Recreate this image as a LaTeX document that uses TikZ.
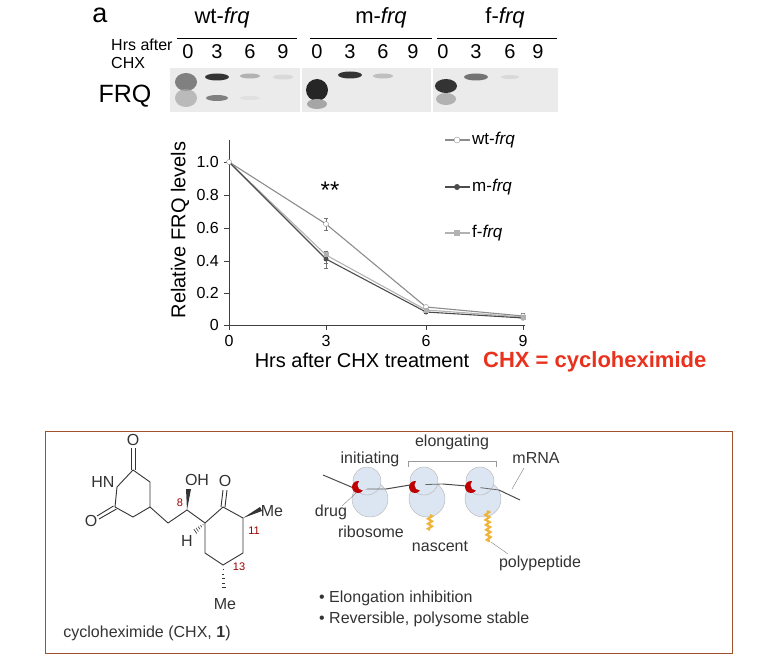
\documentclass[tikz,border=0pt]{standalone}
\usepackage{fontspec}
\setmainfont{Liberation Sans}
\usetikzlibrary{decorations.pathmorphing,calc}
\definecolor{chxred}{HTML}{E8321E}
\definecolor{boxbrown}{HTML}{A0522D}
\definecolor{ribo}{HTML}{DCE5F2}
\definecolor{pep}{HTML}{F0B43C}
\definecolor{txt}{HTML}{333333}
\tikzset{
 lab/.style={font=\fontsize{#1}{#1}\selectfont, inner sep=0pt},
 lab/.default=12,
 ax/.style={draw=black!75, line width=0.8pt},
 wtl/.style={draw=black!45, line width=1.1pt},
 ml/.style={draw=black!70, line width=1.1pt},
 fl/.style={draw=black!30, line width=1.1pt},
 bond/.style={line width=0.9pt, txt},
 pepl/.style={pep, line width=2.2pt, decorate, decoration={zigzag, amplitude=2pt, segment length=5pt}},
 leader/.style={draw=black!50, line width=0.4pt},
}
\begin{document}
\begin{tikzpicture}[x=1pt,y=-1pt]
\useasboundingbox (0,0) rectangle (760,668);
% ---------- blot header
\node[lab=27] (a) at (100,15) {a};
\node[lab=22] (wt) at (222,18) {wt-\textit{frq}};
\node[lab=22] (mf) at (381,18) {m-\textit{frq}};
\node[lab=22] (ff) at (505,18) {f-\textit{frq}};
\draw[line width=0.8pt] (177,38) -- (297,38);
\draw[line width=0.8pt] (310,38) -- (432,38);
\draw[line width=0.8pt] (437,38) -- (557,38);
\node[lab=16,anchor=west] (hrs) at (111,45) {Hrs after};
\node[lab=16,anchor=west] (chx) at (111,63) {CHX};
\foreach \x/\t in {188/0,217/3,250/6,283/9,317/0,350/3,383/6,413/9,443/0,476/3,510/6,538/9}
  \node[lab=20] at (\x,52) {\t};
\node[lab=25] (frq) at (125,96) {FRQ};
% blot panels
\fill[black!8] (170,68) rectangle (300,112);
\fill[black!8] (302,68) rectangle (431,112);
\fill[black!8] (433,68) rectangle (558,112);
\begin{scope}
\fill[black!60, opacity=0.8] (186,82) ellipse (11 and 9);
\fill[black!35, opacity=0.7] (186,98) ellipse (11 and 9);
\fill[black!80] (217,77) ellipse (12 and 3.5);
\fill[black!50] (217,98) ellipse (11 and 3);
\fill[black!30] (250,76) ellipse (10 and 2.5);
\fill[black!12] (250,98) ellipse (10 and 2);
\fill[black!15] (283,77) ellipse (10 and 2.5);
\fill[black!85] (317,90) ellipse (11 and 11);
\fill[black!35] (317,104) ellipse (10 and 5);
\fill[black!80] (350,75) ellipse (12 and 3.5);
\fill[black!25] (383,76) ellipse (10 and 2.5);
\fill[black!80] (446,86) ellipse (11 and 7);
\fill[black!30] (446,99) ellipse (10 and 6);
\fill[black!55] (476,77) ellipse (12 and 3.5);
\fill[black!15] (510,77) ellipse (9 and 2);
\end{scope}
% ---------- graph
\draw[ax] (229,140) -- (229,325) -- (525,325);
\foreach \v/\y in {1.0/162,0.8/195,0.6/228,0.4/261,0.2/293,0/325}{
  \draw[ax] (224,\y) -- (229,\y);
  \node[lab=16,anchor=east] at (219,\y) {\v};}
\foreach \v/\x in {0/229,3/326,6/426,9/523}{
  \draw[ax] (\x,325) -- (\x,330);
  \node[lab=16] at (\x,341) {\v};}
\node[lab=20,rotate=90] (ylab) at (180,230) {Relative FRQ levels};
\node[lab=20] (xlab) at (362,360) {Hrs after CHX treatment};
\node[lab=20,anchor=west,text=chxred,font=\bfseries\fontsize{22}{22}\selectfont] (def) at (483,362) {CHX = cycloheximide};
\node[lab=24] (stars) at (330,190) {**};
% error bars
\foreach \x/\y/\e in {326/224/6,326/257/6,326/262/6,426/308/3,523/315/2}
  \draw[black!55, line width=0.5pt] (\x,\y-\e) -- (\x,\y+\e) (\x-2,\y-\e) -- (\x+2,\y-\e) (\x-2,\y+\e) -- (\x+2,\y+\e);
\draw[wtl] (229,162) -- (326,224) -- (426,307) -- (523,316);
\draw[fl] (229,162) -- (326,255) -- (426,310) -- (523,317);
\draw[ml] (229,162) -- (326,259) -- (426,312) -- (523,318);
\foreach \x/\y in {229/162,326/224,426/307,523/316} \draw[black!45, fill=white] (\x,\y) circle (2.5);
\foreach \x/\y in {326/259,426/312,523/318} \fill[black!70] (\x,\y) circle (2.5);
\foreach \x/\y in {326/255,426/310,523/317} \fill[black!30] (\x-2.5,\y-2.5) rectangle (\x+2.5,\y+2.5);
% legend
\draw[wtl] (445,140) -- (470,140); \draw[black!45, fill=white] (457,140) circle (3);
\node[lab=17,anchor=west] at (472,140) {wt-\textit{frq}};
\draw[ml] (445,187) -- (470,187); \fill[black!70] (457,187) circle (3);
\node[lab=17,anchor=west] at (472,187) {m-\textit{frq}};
\draw[fl] (445,233) -- (470,233); \fill[black!30] (454,230) rectangle (460,236);
\node[lab=17,anchor=west] at (472,233) {f-\textit{frq}};
% ---------- bottom box
\draw[boxbrown, line width=0.9pt] (45,431) rectangle (732,653);
% chemical structure
\begin{scope}[txt]
\node[lab=16] (o1) at (133,440) {O};
\node[lab=16] (hn) at (103,482) {HN};
\node[lab=16] (o2) at (91,521) {O};
\node[lab=16] (oh) at (197,480) {OH};
\node[lab=16] (o3) at (225,481) {O};
\node[lab=16] (me1) at (272,511) {Me};
\node[lab=16] (h) at (187,541) {H};
\node[lab=16] (me2) at (225,604) {Me};
\node[lab=11,text=red!60!black] at (180,503) {8};
\node[lab=11,text=red!60!black] at (254,531) {11};
\node[lab=11,text=red!60!black] at (239,567) {13};
\end{scope}
\coordinate (a1) at (133,470); \coordinate (a2) at (150,482); \coordinate (a3) at (150,507);
\coordinate (a4) at (133,517); \coordinate (a5) at (115,507); \coordinate (a6) at (117,487);
\draw[bond] (a6) -- (a1) -- (a2) -- (a3) -- (a4) -- (a5) -- (a6);
\draw[bond] (131,470) -- (131,448) (135,470) -- (135,448);
\draw[bond] (113.5,506) -- (97,516) (116.5,509) -- (99,519);
\coordinate (c1) at (168,523); \coordinate (c8) at (187,510);
\coordinate (r1) at (205,523); \coordinate (r2) at (223,507); \coordinate (r3) at (243,518);
\coordinate (r4) at (243,553); \coordinate (r5) at (223,565); \coordinate (r6) at (205,553);
\draw[bond] (a3) -- (c1) -- (c8) -- (r1) -- (r2) -- (r3) -- (r4) -- (r5) -- (r6) -- (r1);
\fill[txt] (c8) -- (186,489) -- (191,489) -- cycle;
\draw[bond] (221,507) -- (223,490) (225,507) -- (227,490);
\fill[txt] (r3) -- (260,507) -- (262,511) -- cycle;
\foreach \t in {0.15,0.3,...,0.9}
  \draw[txt, line width=0.6pt] ($(r1)!\t!(192,534)+(-\t*2,-\t*3)$) -- ($(r1)!\t!(192,534)+(\t*2,\t*3)$);
\foreach \t in {0.15,0.3,...,0.9}
  \draw[txt, line width=0.6pt] ($(r5)!\t!(224,595)+(-\t*3,0)$) -- ($(r5)!\t!(224,595)+(\t*3,0)$);
\node[lab=16,txt] (name) at (147,633) {cycloheximide (CHX, \textbf{1})};
% ribosome scheme
\foreach \x in {370,427,483}{
  \fill[ribo] (\x,499) circle (18);
  \draw[black!30, line width=0.4pt] (\x,499) circle (18);
  \fill[ribo] (\x-3,481) circle (14);
  \draw[black!30, line width=0.4pt] (\x-3,481) circle (14);
}
\draw[black!70, line width=1pt] (323,475) -- (356,489) (386,489) -- (410,485) (443,484) -- (467,486) (499,490) -- (520,500);
\draw[black!60, line width=0.8pt] (356,489) -- (386,489) (410,485) -- (443,484) (467,486) -- (499,490);
\foreach \x in {370,427,483}{
  \fill[red!75!black] (\x-12,487) circle (6);
  \fill[ribo] (\x-7,485) circle (5.5);}
\draw[pepl] (430,515) -- (430,530);
\draw[pepl] (487,511) -- (489,542);
\begin{scope}[txt]
\node[lab=16] (init) at (370,459) {initiating};
\node[lab=16] (elong) at (452,442) {elongating};
\node[lab=16] (mrna) at (536,458) {mRNA};
\node[lab=16] (drug) at (331,512) {drug};
\node[lab=16] (ribl) at (371,532) {ribosome};
\node[lab=16] (nasc) at (440,546) {nascent};
\node[lab=16] (poly) at (540,563) {polypeptide};
\node[lab=16,anchor=west] (b1) at (319,598) {\textbullet\ Elongation inhibition};
\node[lab=16,anchor=west] (b2) at (319,619) {\textbullet\ Reversible, polysome stable};
\end{scope}
\draw[black!40, line width=0.6pt] (408,467) -- (408,461) -- (496,461) -- (496,467);
\draw[leader] (342,506) -- (356,493);
\draw[leader] (512,489) -- (524,468);
\draw[leader] (491,542) -- (508,554);
\end{tikzpicture}
\end{document}
